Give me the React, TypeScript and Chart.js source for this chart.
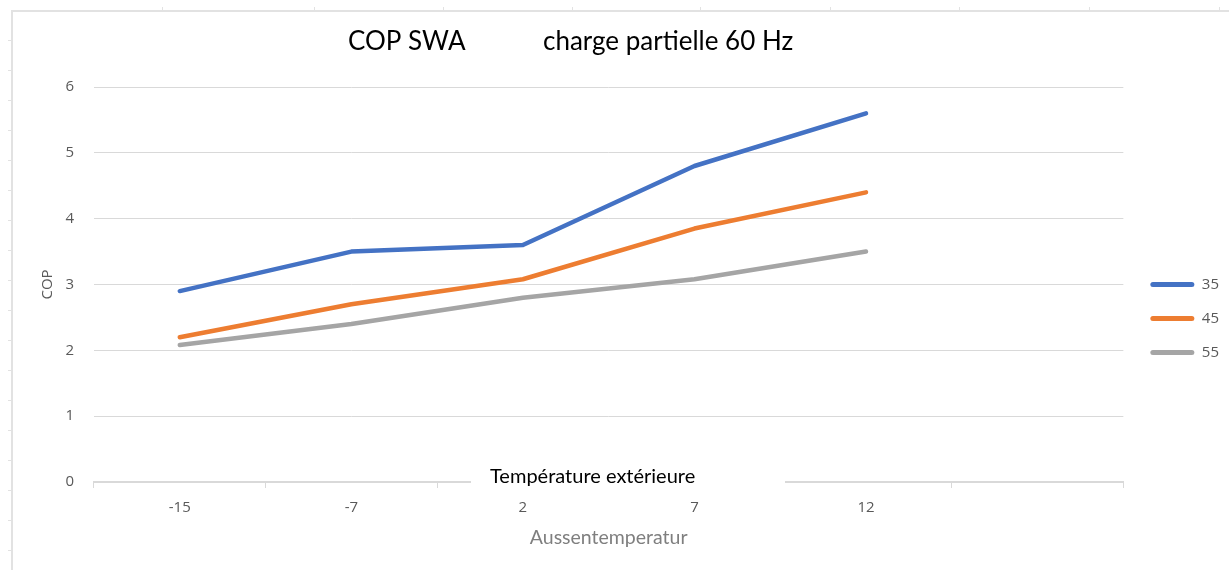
import React, { useEffect, useRef } from "react";
import { Chart, registerables } from "chart.js";

Chart.register(...registerables);

const categories = ["-15", "-7", "2", "7", "12", ""];
const seriesNames = ["35", "45", "55"];
const values35 = [2.9, 3.5, 3.6, 4.8, 5.6];
const values45 = [2.2, 2.7, 3.08, 3.85, 4.4];
const values55 = [2.08, 2.4, 2.8, 3.08, 3.5];
const seriesColors = ["#4472C4", "#ED7D31", "#A5A5A5"];
const yTicks = [0, 1, 2, 3, 4, 5, 6];

const titleLeft = "COP SWA";
const titleRight = "charge partielle 60 Hz";
const overlayText = "Température extérieure";
const xTitle = "Aussentemperatur";
const yTitle = "COP";

const decorPlugin = {
  id: "decor",
  beforeDraw(chart: any) {
    const ctx = chart.ctx;
    ctx.save();
    ctx.strokeStyle = "#e2e2e2";
    ctx.lineWidth = 2;
    ctx.beginPath();
    ctx.moveTo(12, 10);
    ctx.lineTo(12, chart.height);
    ctx.moveTo(11, 11);
    ctx.lineTo(chart.width, 11);
    ctx.stroke();
    ctx.lineWidth = 1;
    ctx.beginPath();
    for (let y = 40; y < chart.height; y += 30) {
      ctx.moveTo(8, y + 0.5);
      ctx.lineTo(11, y + 0.5);
    }
    [162, 314, 443, 572, 700, 830, 959, 1089, 1219].forEach((x) => {
      ctx.moveTo(x + 0.5, 7);
      ctx.lineTo(x + 0.5, 10);
    });
    ctx.stroke();
    ctx.restore();
  },
  afterDraw(chart: any) {
    const ctx = chart.ctx;
    ctx.save();
    ctx.fillStyle = "#000000";
    ctx.font = "26px Lato";
    ctx.textBaseline = "middle";
    ctx.textAlign = "left";
    ctx.fillText(titleLeft, 348, 42);
    ctx.fillText(titleRight, 543, 42);
    ctx.fillStyle = "#ffffff";
    ctx.fillRect(471, 464, 314, 26);
    ctx.fillStyle = "#000000";
    ctx.font = "20px Lato";
    ctx.fillText(overlayText, 490, 477);
    ctx.restore();
  },
};

export default function App() {
  const ref = useRef<HTMLCanvasElement>(null);
  useEffect(() => {
    if (!ref.current) return;
    const lineDs = (label: string, data: number[], color: string) => ({
      label,
      data,
      borderColor: color,
      backgroundColor: color,
      borderWidth: 4.5,
      pointRadius: 0,
      borderCapStyle: "round" as const,
      borderJoinStyle: "round" as const,
      tension: 0,
    });
    const chart = new Chart(ref.current, {
      type: "line",
      data: {
        labels: categories,
        datasets: [
          lineDs(seriesNames[0], values35, seriesColors[0]),
          lineDs(seriesNames[1], values45, seriesColors[1]),
          lineDs(seriesNames[2], values55, seriesColors[2]),
        ],
      },
      plugins: [decorPlugin],
      options: {
        animation: false,
        responsive: true,
        maintainAspectRatio: false,
        layout: { padding: { top: 87, left: 0, right: 0, bottom: 20 } },
        plugins: {
          title: { display: false },
          tooltip: { enabled: false },
          legend: {
            display: true,
            position: "right",
            labels: {
              boxWidth: 44,
              boxHeight: 5,
              padding: 19,
              color: "#595959",
              font: { family: "Open Sans", size: 15 },
              generateLabels: (c: any) =>
                Chart.defaults.plugins.legend.labels
                  .generateLabels(c)
                  .map((l: any) => ({ ...l, lineWidth: 0, borderRadius: 2.5 })),
              useBorderRadius: true,
              borderRadius: 2.5,
            },
          },
        },
        scales: {
          x: {
            offset: true,
            grid: {
              display: true,
              drawOnChartArea: false,
              drawTicks: true,
              tickLength: 6,
              offset: true,
              color: "#d9d9d9",
            },
            border: { display: true, color: "#d9d9d9", width: 2 },
            ticks: {
              color: "#595959",
              font: { family: "Open Sans", size: 15 },
              padding: 11,
              maxRotation: 0,
              autoSkip: false,
            },
            title: {
              display: true,
              text: xTitle,
              color: "#7f7f7f",
              font: { family: "Lato", size: 19.5 },
              padding: { top: 0, bottom: 1 },
            },
            afterFit: (s: any) => {
              s.height = 68;
            },
          },
          y: {
            min: yTicks[0],
            max: yTicks[yTicks.length - 1],
            afterBuildTicks: (s: any) => {
              s.ticks = yTicks.map((v) => ({ value: v }));
            },
            grid: { color: "#d9d9d9", drawTicks: false, lineWidth: 1 },
            border: { display: false },
            ticks: {
              color: "#595959",
              font: { family: "Open Sans", size: 15 },
              padding: 20,
            },
            title: {
              display: true,
              text: yTitle,
              color: "#595959",
              font: { family: "Open Sans", size: 15 },
              padding: { top: 39, bottom: 0 },
            },
            afterFit: (s: any) => {
              s.width = 94;
            },
          },
          gap: {
            type: "linear",
            position: "right",
            display: true,
            grid: { display: false },
            border: { display: false },
            ticks: { display: false },
            afterFit: (s: any) => {
              s.width = 8;
            },
          },
        },
      },
    } as any);
    return () => chart.destroy();
  }, []);
  return (
    <div style={{ position: "fixed", left: 0, top: 0, width: 1229, height: 570, background: "#fff" }}>
      <canvas ref={ref} />
    </div>
  );
}
